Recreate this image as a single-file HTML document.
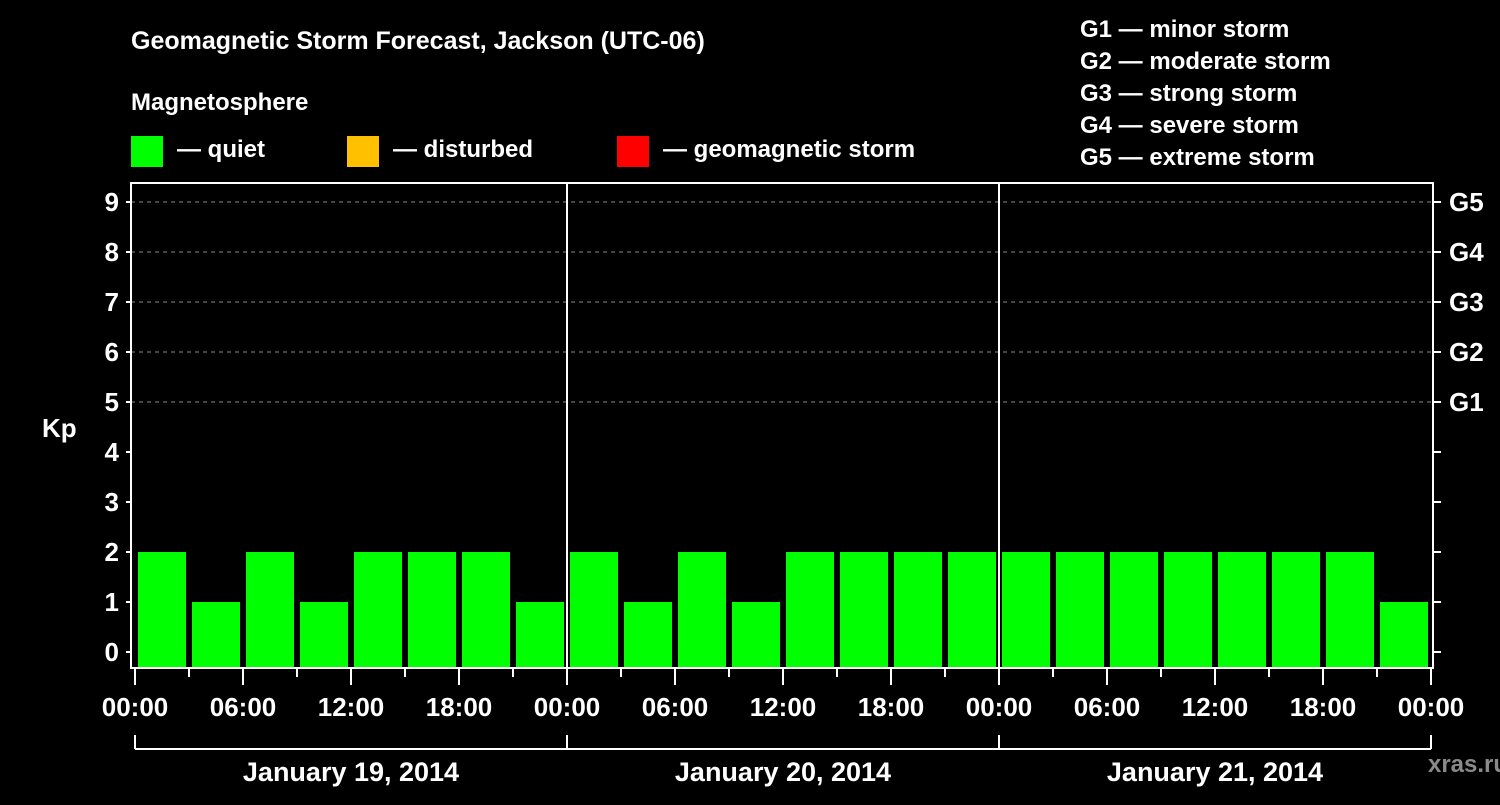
<!DOCTYPE html>
<html><head><meta charset="utf-8"><style>
body{margin:0;background:#000;width:1500px;height:800px;overflow:hidden}
svg text{font-family:"Liberation Sans",sans-serif;font-weight:bold;fill:#fff}
</style></head><body>
<svg id="c" width="1500" height="800">
<text x="131" y="49" font-size="25">Geomagnetic Storm Forecast, Jackson (UTC-06)</text>
<text x="131" y="110" font-size="24">Magnetosphere</text>
<g><rect x="131" y="136" width="32" height="31" fill="#00ff00"/><text x="177" y="157" font-size="24">— quiet</text></g>
<g><rect x="347" y="136" width="32" height="31" fill="#ffc000"/><text x="393" y="157" font-size="24">— disturbed</text></g>
<g><rect x="617" y="136" width="32" height="31" fill="#ff0000"/><text x="663" y="157" font-size="24">— geomagnetic storm</text></g>
<g font-size="24">
<text x="1080" y="37">G1 — minor storm</text><text x="1080" y="69">G2 — moderate storm</text><text x="1080" y="101">G3 — strong storm</text><text x="1080" y="133">G4 — severe storm</text><text x="1080" y="165">G5 — extreme storm</text>
</g>
<text x="42" y="437" font-size="26">Kp</text>
<text x="1468" y="772" font-size="24" fill="#888" style="fill:#8a8a8a" text-anchor="middle">xras.ru</text>
<g id="grid"></g><g id="bars"></g><g id="axes"></g>
</svg>
<script>
const kpValues=[2,1,2,1,2,2,2,1, 2,1,2,1,2,2,2,2, 2,2,2,2,2,2,2,1];
const yTicks=[0,1,2,3,4,5,6,7,8,9];
const gLabels=["G1","G2","G3","G4","G5"];
const xTickLabels=["00:00","06:00","12:00","18:00","00:00","06:00","12:00","18:00","00:00","06:00","12:00","18:00","00:00"];
const dayLabels=["January 19, 2014","January 20, 2014","January 21, 2014"];
const NS="http://www.w3.org/2000/svg";
const L=131,R=1433,T=183,B=668,X0=135,DAY=432;
const y=v=>652-v*50;
const x=h=>X0+h*DAY/24;
function mk(tag,attrs,parent){const e=document.createElementNS(NS,tag);for(const k in attrs)e.setAttribute(k,attrs[k]);parent.appendChild(e);return e;}
const grid=document.getElementById('grid'),bars=document.getElementById('bars'),axes=document.getElementById('axes');
yTicks.forEach(v=>{
 if(v>=5){const g=mk('line',{x1:L,x2:R,y1:y(v),y2:y(v),stroke:'#888','stroke-dasharray':'4,4','stroke-width':1},grid);
 
 }
 const t=mk('line',{x1:L-5,x2:L,y1:y(v),y2:y(v),stroke:'#fff','stroke-width':2},axes);
 
 
 const rt=mk('line',{x1:R,x2:R+8,y1:y(v),y2:y(v),stroke:'#fff','stroke-width':2},axes);
 
 
 const lb=mk('text',{x:L-12,y:y(v)+9,'font-size':26,'text-anchor':'end'},axes);lb.textContent=v;
 
 
});
gLabels.forEach((g,i)=>{const lb=mk('text',{x:1449,y:y(5+i)+9,'font-size':26},axes);lb.textContent=g;
 
 });
kpValues.forEach((v,i)=>{
 const c=v>=5?'#ff0000':(v>=4?'#ffc000':'#00ff00');
 const b=mk('rect',{x:x(i*3)+3,y:y(v),width:48,height:B-1-y(v),fill:c},bars);
 
 
});
const f=mk('rect',{x:L,y:T,width:R-L,height:B-T,fill:'none',stroke:'#fff','stroke-width':2},axes);


[1,2].forEach(d=>{const s=mk('line',{x1:x(d*24),x2:x(d*24),y1:T,y2:B,stroke:'#fff','stroke-width':2},axes);
 
 });
for(let h=0;h<=72;h+=3){const major=h%6==0;
 const t=mk('line',{x1:x(h),x2:x(h),y1:B,y2:major?B+17:B+9,stroke:'#fff','stroke-width':2},axes);
 
 }
xTickLabels.forEach((s,i)=>{const lb=mk('text',{x:x(i*6),y:716,'font-size':26,'text-anchor':'middle'},axes);lb.textContent=s;
 
 });
const br=mk('line',{x1:x(0),x2:x(72),y1:749,y2:749,stroke:'#fff','stroke-width':2},axes);


for(let d=0;d<=3;d++){const t=mk('line',{x1:x(d*24),x2:x(d*24),y1:735,y2:749,stroke:'#fff','stroke-width':2},axes);
 
 }
dayLabels.forEach((s,i)=>{const lb=mk('text',{x:x(i*24+12),y:781,'font-size':27,'text-anchor':'middle'},axes);lb.textContent=s;
 
 });
</script>
</body></html>
